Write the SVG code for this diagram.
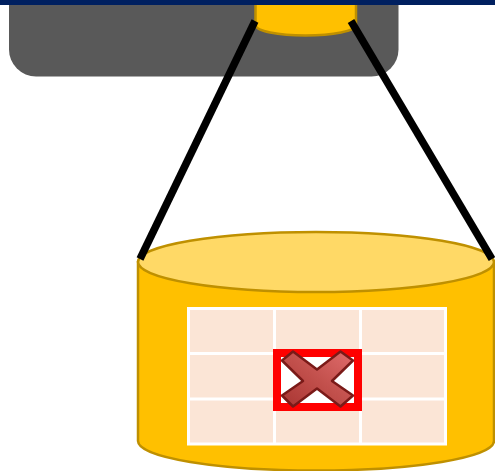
<svg xmlns="http://www.w3.org/2000/svg" width="495" height="471" viewBox="0 0 495 471">
<style>
.cyl{fill:#ffc000;stroke:#bf9000;stroke-width:2.5}
.cap{fill:#ffd966;stroke:#bf9000;stroke-width:2.5}
.grid{fill:none;stroke:#fff;stroke-width:3}
.beam{stroke:#000;stroke-width:7.500;fill:none}
</style>
<defs>
<linearGradient id="x" x1="0" y1="1" x2="1" y2="0">
<stop offset="0" stop-color="#a93532"/>
<stop offset="0.5" stop-color="#c2504c"/>
<stop offset="1" stop-color="#e06c6c"/>
</linearGradient>
</defs>
<g id="panel"><path d="M9 0H398.500V49.500A27 27 0 0 1 371.500 76.500H36A27 27 0 0 1 9 49.500Z" fill="#595959"/></g>
<g id="small-cylinder"><path class="cyl" d="M255.500 0V25C255.500 31 278 35.500 305.500 35.500S356 31 356 25V0Z"/></g>
<rect id="top-bar" x="0" y="0" width="495" height="5" fill="#002060"/>
<g id="large-cylinder">
<path class="cyl" d="M138 262V441C138 457.500 218 470.500 316 470.500S494 457.500 494 441V262Z"/>
<ellipse class="cap" cx="316" cy="262" rx="178" ry="30"/>
</g>
<g id="table">
<rect x="188.500" y="308.500" width="257.500" height="135.500" fill="#fbe5d6"/>
<path class="grid" d="M188.500 308.500H445.500V444H188.500ZM274.500 308.500V444M360.500 308.500V444M188.500 353.500H445.500M188.500 399H445.500"/>
</g>
<g id="marked-cell">
<rect x="277" y="353" width="81" height="54" fill="#fff" stroke="#ff0000" stroke-width="8"/>
<path d="M282 360.500L293 351.500L317 369.500L340.500 351.500L353 360.500L332 381L353 395.500L340.500 406.500L317 388.500L293 406.500L282 395.500L303 381Z" fill="url(#x)" stroke="#7a1a18" stroke-width="2.500" stroke-linejoin="round"/>
</g>
<g id="connectors">
<line class="beam" x1="255" y1="21" x2="140" y2="259"/>
<line class="beam" x1="351" y1="21" x2="492" y2="259"/>
</g>
</svg>
